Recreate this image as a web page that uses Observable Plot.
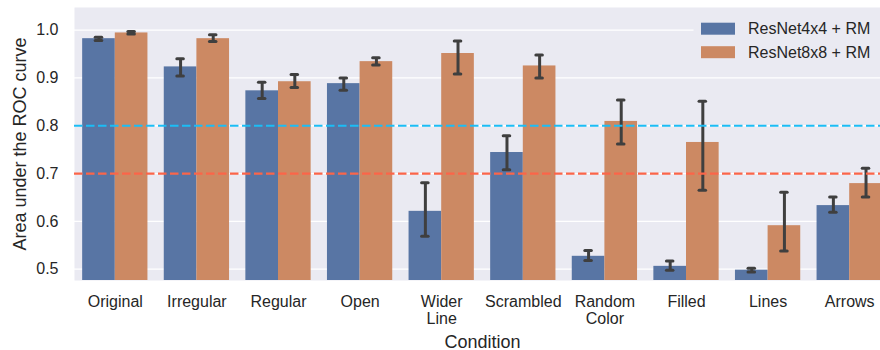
<!DOCTYPE html>
<html>
<head>
<meta charset="utf-8">
<script src="https://cdn.jsdelivr.net/npm/d3@7"></script>
<script src="https://cdn.jsdelivr.net/npm/@observablehq/plot@0.6"></script>
<style>
  html, body { margin: 0; padding: 0; background: #fff; overflow: hidden; }
  #chart { width: 880px; height: 350px; overflow: hidden; }
  svg { font-family: "Liberation Sans", Arial, sans-serif; }
</style>
</head>
<body>
<div id="chart"></div>
<script>
const conditions = ["Original", "Irregular", "Regular", "Open", "Wider\nLine", "Scrambled", "Random\nColor", "Filled", "Lines", "Arrows"];
const seriesNames = ["ResNet4x4 + RM", "ResNet8x8 + RM"];
const seriesColors = ["#5875a4", "#cc8963"];

const res4Mean = [0.982, 0.923, 0.873, 0.888, 0.621, 0.744, 0.527, 0.506, 0.498, 0.633];
const res4Low  = [0.978, 0.904, 0.857, 0.874, 0.569, 0.708, 0.518, 0.498, 0.494, 0.619];
const res4High = [0.985, 0.940, 0.891, 0.900, 0.681, 0.779, 0.539, 0.517, 0.502, 0.651];

const res8Mean = [0.994, 0.982, 0.892, 0.934, 0.951, 0.925, 0.809, 0.765, 0.591, 0.679];
const res8Low  = [0.992, 0.976, 0.880, 0.927, 0.908, 0.900, 0.762, 0.665, 0.538, 0.651];
const res8High = [0.997, 0.990, 0.907, 0.942, 0.977, 0.948, 0.854, 0.851, 0.661, 0.711];

const yTicks = [0.5, 0.6, 0.7, 0.8, 0.9, 1.0];
const thresholds = [{v: 0.8, color: "#1bbdf5"}, {v: 0.7, color: "#fb6549"}];

// Build table: each bar occupies half of the 0.8-wide group around the category index
const rows = [];
[[res4Mean, res4Low, res4High], [res8Mean, res8Low, res8High]].forEach(([m, lo, hi], s) => {
  conditions.forEach((c, i) => {
    const x1 = s === 0 ? i - 0.4 : i;
    const x2 = s === 0 ? i : i + 0.4;
    rows.push({cond: c, series: seriesNames[s], i, x1, x2, xc: (x1 + x2) / 2, mean: m[i], low: lo[i], high: hi[i]});
  });
});

const textColor = "#262626";
const errColor = "#3f3f3f";
const capHalf = 0.04;

const chart = Plot.plot({
  width: 880,
  height: 350,
  marginLeft: 74,
  marginRight: -10,
  marginTop: 7,
  marginBottom: 70,
  style: {fontFamily: "'Liberation Sans', Arial, sans-serif", color: textColor, background: "#fff", overflow: "hidden"},
  x: {type: "linear", domain: [-0.5, 9.5]},
  y: {domain: [0.4764, 1.0472]},
  color: {domain: seriesNames, range: seriesColors},
  marks: [
    Plot.frame({fill: "#eaeaf2", stroke: null}),
    Plot.gridY(yTicks, {stroke: "#fff", strokeOpacity: 1, strokeWidth: 1.3}),
    Plot.axisY(yTicks, {tickSize: 0, tickPadding: 16, tickFormat: d3.format(".1f"), fontSize: 16, fill: textColor, label: null}),
    Plot.axisX(d3.range(conditions.length), {tickSize: 0, tickPadding: 15, tickFormat: i => conditions[i], fontSize: 16, fill: textColor, lineHeight: 1.05, label: null}),
    Plot.rectY(rows, {x1: "x1", x2: "x2", y1: 0, y2: "mean", fill: "series", clip: true}),
    Plot.ruleX(rows, {x: "xc", y1: "low", y2: "high", stroke: errColor, strokeWidth: 3}),
    Plot.ruleY(rows, {x1: d => d.xc - capHalf, x2: d => d.xc + capHalf, y: "low", stroke: errColor, strokeWidth: 3, strokeLinecap: "round"}),
    Plot.ruleY(rows, {x1: d => d.xc - capHalf, x2: d => d.xc + capHalf, y: "high", stroke: errColor, strokeWidth: 3, strokeLinecap: "round"}),
    Plot.ruleY(thresholds, {y: "v", stroke: "color", strokeWidth: 2.2, strokeDasharray: "8.5,3.5"}),
    Plot.text(["Condition"], {frameAnchor: "bottom", dy: 67, lineAnchor: "bottom", fontSize: 18, fill: textColor}),
    Plot.text(["Area under the ROC curve"], {frameAnchor: "left", dx: -54, rotate: -90, textAnchor: "middle", lineAnchor: "middle", fontSize: 18, fill: textColor})
  ]
});

document.getElementById("chart").appendChild(chart);

// Legend drawn inside the plot area, upper right
const svg = d3.select(chart);
const lg = svg.append("g").attr("class", "legend").style("text-anchor", "start");
lg.append("rect").attr("x", 694).attr("y", 10).attr("width", 200).attr("height", 58).attr("rx", 4)
  .attr("fill", "#eaeaf2").attr("stroke", "#eaeaf2");
seriesNames.forEach((name, k) => {
  const y0 = 22.7 + k * 23.5;
  lg.append("rect").attr("x", 701).attr("y", y0).attr("width", 34).attr("height", 12).attr("fill", seriesColors[k]);
  lg.append("text").attr("x", 748).attr("y", y0 + 6).attr("dy", "0.36em")
    .style("font-size", "16px").style("text-anchor", "start")
    .style("font-family", "'Liberation Sans', Arial, sans-serif")
    .attr("fill", textColor).text(name);
});
</script>
</body>
</html>
